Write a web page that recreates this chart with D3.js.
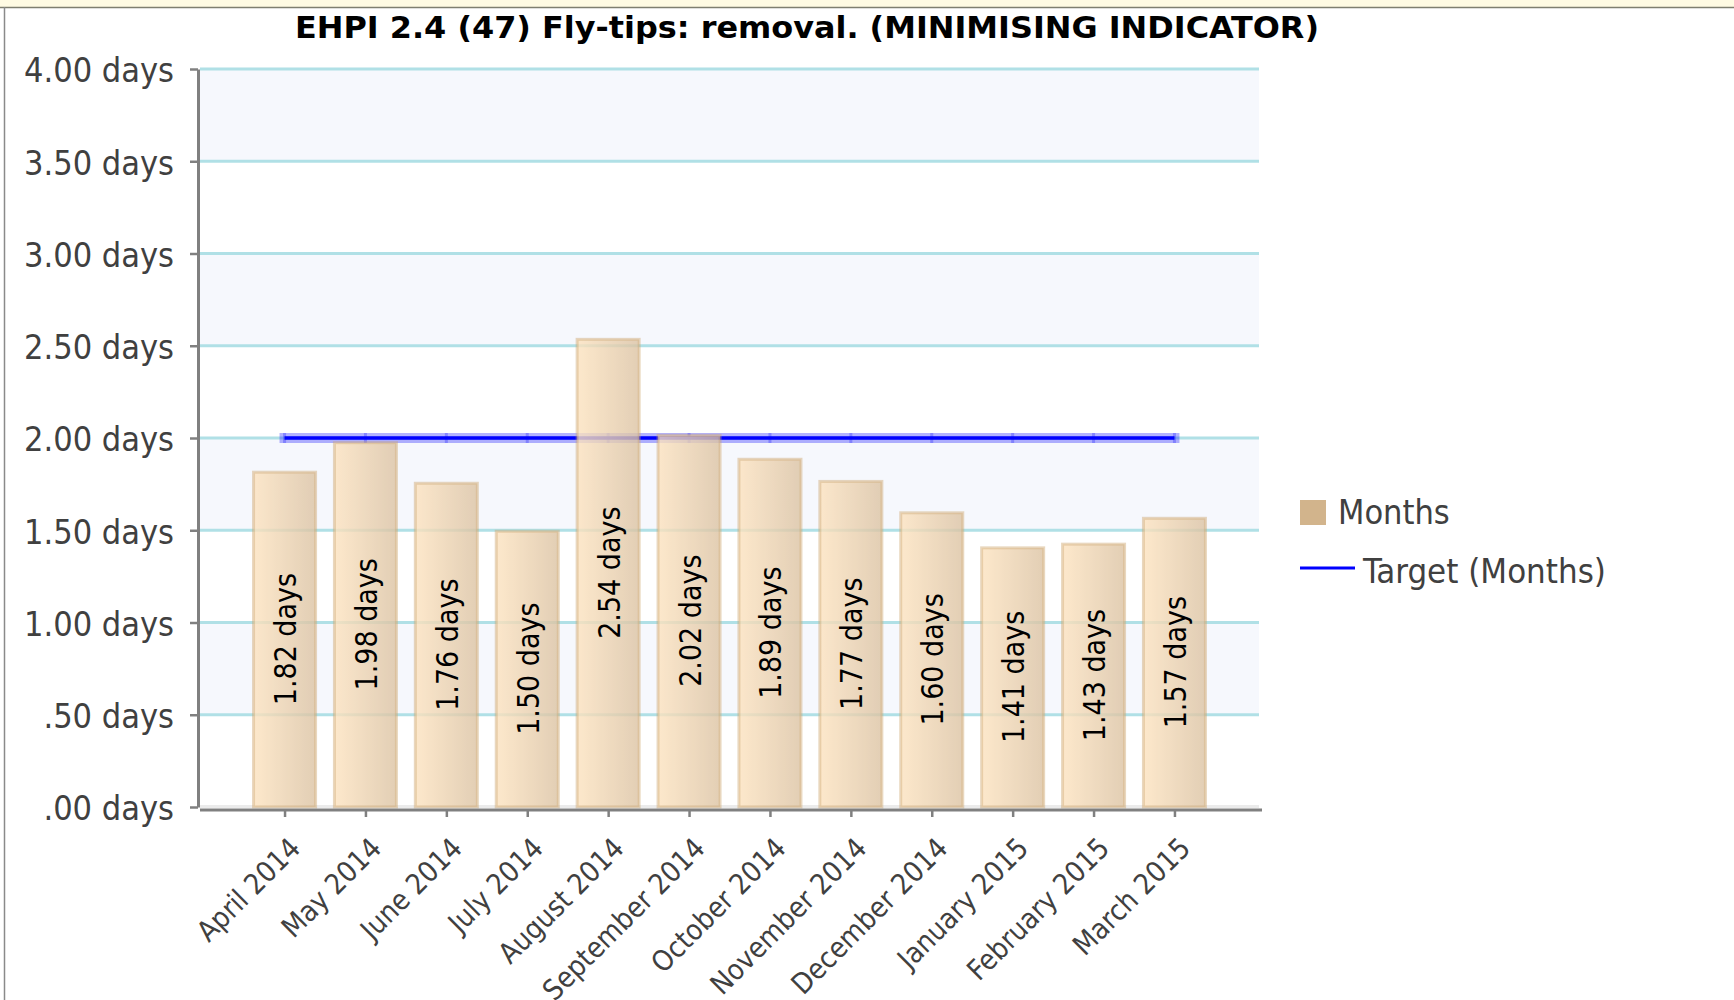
<!DOCTYPE html>
<html>
<head>
<meta charset="utf-8">
<script src="https://cdn.jsdelivr.net/npm/d3@7"></script>
<style>
  html, body { margin: 0; padding: 0; background: #ffffff; }
  svg { display: block; }
  .lbl { font-family: 'DejaVu Sans Condensed', 'Liberation Sans', Arial, sans-serif; }
</style>
</head>
<body>
<svg id="chart" width="1734" height="1000"></svg>
<script>
// ---------------- data ----------------
const chartTitle = "EHPI 2.4 (47) Fly-tips: removal. (MINIMISING INDICATOR)";
const categories = ["April 2014", "May 2014", "June 2014", "July 2014", "August 2014",
  "September 2014", "October 2014", "November 2014", "December 2014",
  "January 2015", "February 2015", "March 2015"];
const monthsValues = [1.82, 1.98, 1.76, 1.50, 2.54, 2.02, 1.89, 1.77, 1.60, 1.41, 1.43, 1.57];
const targetValues = [2.00, 2.00, 2.00, 2.00, 2.00, 2.00, 2.00, 2.00, 2.00, 2.00, 2.00, 2.00];
const yTicks = [0, 0.5, 1.0, 1.5, 2.0, 2.5, 3.0, 3.5, 4.0];
const seriesNames = ["Months", "Target (Months)"];

// ---------------- layout ----------------
const svg = d3.select("#chart");
const W = 1734, H = 1000;
const plotL = 200, plotR = 1259, plotT = 69, plotB = 807;
const fmtDays = v => d3.format(".2f")(v).replace(/^0\./, ".") + " days";

const x = d3.scalePoint().domain(categories).range([plotL, plotR]).padding(1.045);
const y = d3.scaleLinear().domain([0, 4]).range([plotB, plotT]);
const barW = 64;

// page frame: yellow strip + left border
svg.append("rect").attr("x", 0).attr("y", 0).attr("width", W).attr("height", 7).attr("fill", "#fffbe3");
svg.append("line").attr("x1", 0).attr("x2", W).attr("y1", 7.5).attr("y2", 7.5).attr("stroke", "#7f7f70").attr("stroke-width", 1.5);
svg.append("line").attr("x1", 4.5).attr("x2", 4.5).attr("y1", 7).attr("y2", H).attr("stroke", "#8a8a8a").attr("stroke-width", 1.5);

// defs: bar gradient
const defs = svg.append("defs");
const grad = defs.append("linearGradient").attr("id", "barGrad").attr("x1", "0%").attr("x2", "100%").attr("y1", "0%").attr("y2", "0%");
grad.append("stop").attr("offset", "0%").attr("stop-color", "#fde3bf");
grad.append("stop").attr("offset", "100%").attr("stop-color", "#dcc3a3");

// background bands
const bandStarts = yTicks.filter((t, i) => i % 2 === 1);
svg.append("g").selectAll("rect").data(bandStarts).join("rect")
  .attr("x", plotL).attr("width", plotR - plotL)
  .attr("y", d => y(d + 0.5)).attr("height", d => y(d) - y(d + 0.5))
  .attr("fill", "#f6f8fd");

// plot bottom strip
svg.append("rect").attr("x", plotL).attr("y", plotB - 2).attr("width", plotR - plotL).attr("height", 3).attr("fill", "#ebebeb");

// gridlines
svg.append("g").selectAll("line").data(yTicks.filter(t => t > 0)).join("line")
  .attr("x1", plotL).attr("x2", plotR)
  .attr("y1", d => y(d)).attr("y2", d => y(d))
  .attr("stroke", "#b0e0e6").attr("stroke-width", 3);

// target line (drawn below bars)
const line = d3.line().x((d, i) => x(categories[i])).y(d => y(d));
const tg = svg.append("g");
tg.append("path").datum(targetValues).attr("d", line).attr("fill", "none")
  .attr("stroke", "rgba(0,0,255,0.3)").attr("stroke-width", 10).attr("stroke-linecap", "square");
tg.selectAll("rect").data(targetValues).join("rect")
  .attr("x", (d, i) => x(categories[i]) - 1.5).attr("width", 3)
  .attr("y", d => y(d) - 5).attr("height", 10)
  .attr("fill", "rgba(0,0,255,0.25)");
tg.append("path").datum(targetValues).attr("d", line).attr("fill", "none")
  .attr("stroke", "#0000ff").attr("stroke-width", 3.5);

// bars
const bars = svg.append("g").attr("opacity", 0.8);
bars.selectAll("rect").data(monthsValues).join("rect")
  .attr("x", (d, i) => x(categories[i]) - barW / 2 + 1)
  .attr("width", barW - 2)
  .attr("y", d => y(d) + 1)
  .attr("height", d => y(0) - y(d) - 1)
  .attr("fill", "url(#barGrad)")
  .attr("stroke", "rgba(205,165,110,0.55)").attr("stroke-width", 3);

// value labels
svg.append("g").selectAll("text").data(monthsValues).join("text")
  .attr("class", "lbl")
  .attr("transform", (d, i) => `translate(${x(categories[i]) + 1},${(y(d) + y(0)) / 2}) rotate(-90)`)
  .attr("text-anchor", "middle").attr("dy", "0.35em")
  .attr("font-size", 30).attr("fill", "#000")
  .text(d => fmtDays(d));

// y axis
const yAxis = svg.append("g").attr("transform", `translate(198,0)`)
  .call(d3.axisLeft(y).tickValues(yTicks).tickSize(8).tickSizeOuter(0).tickPadding(16).tickFormat(fmtDays));
yAxis.select(".domain").attr("stroke", "#808080").attr("stroke-width", 3);
yAxis.selectAll(".tick line").attr("stroke", "#808080").attr("stroke-width", 2.5);
yAxis.selectAll(".tick text").attr("class", "lbl").attr("font-size", 34).attr("fill", "#404040").attr("dy", "0.38em");

// x axis
const xAxis = svg.append("g").attr("transform", `translate(0,810)`)
  .call(d3.axisBottom(x).tickSize(7).tickSizeOuter(0));
xAxis.select(".domain").attr("stroke", "#808080").attr("stroke-width", 3).attr("d", `M${plotL},0H${plotR + 3}`);
xAxis.selectAll(".tick line").attr("stroke", "#808080").attr("stroke-width", 2.5);
xAxis.selectAll(".tick text").attr("class", "lbl").attr("font-size", 28.5).attr("fill", "#404040")
  .attr("x", 0).attr("y", 0).attr("dy", 0)
  .attr("text-anchor", "end")
  .attr("transform", "translate(17,40) rotate(-45)");

// title
svg.append("text").attr("class", "lbl")
  .attr("x", 807).attr("y", 38).attr("text-anchor", "middle")
  .attr("font-size", 30).attr("font-weight", "bold").attr("fill", "#000")
  .attr("textLength", 1024).attr("lengthAdjust", "spacingAndGlyphs")
  .text(chartTitle);

// legend
const lg = svg.append("g");
lg.append("rect").attr("x", 1300).attr("y", 500).attr("width", 26).attr("height", 25).attr("fill", "#d2b48c");
lg.append("text").attr("class", "lbl").attr("x", 1338).attr("y", 524).attr("font-size", 34).attr("fill", "#404040").text(seriesNames[0]);
lg.append("line").attr("x1", 1300).attr("x2", 1355).attr("y1", 568).attr("y2", 568).attr("stroke", "#0000ff").attr("stroke-width", 3);
lg.append("text").attr("class", "lbl").attr("x", 1363).attr("y", 583).attr("font-size", 34.5).attr("fill", "#404040").text(seriesNames[1]);
</script>
</body>
</html>
